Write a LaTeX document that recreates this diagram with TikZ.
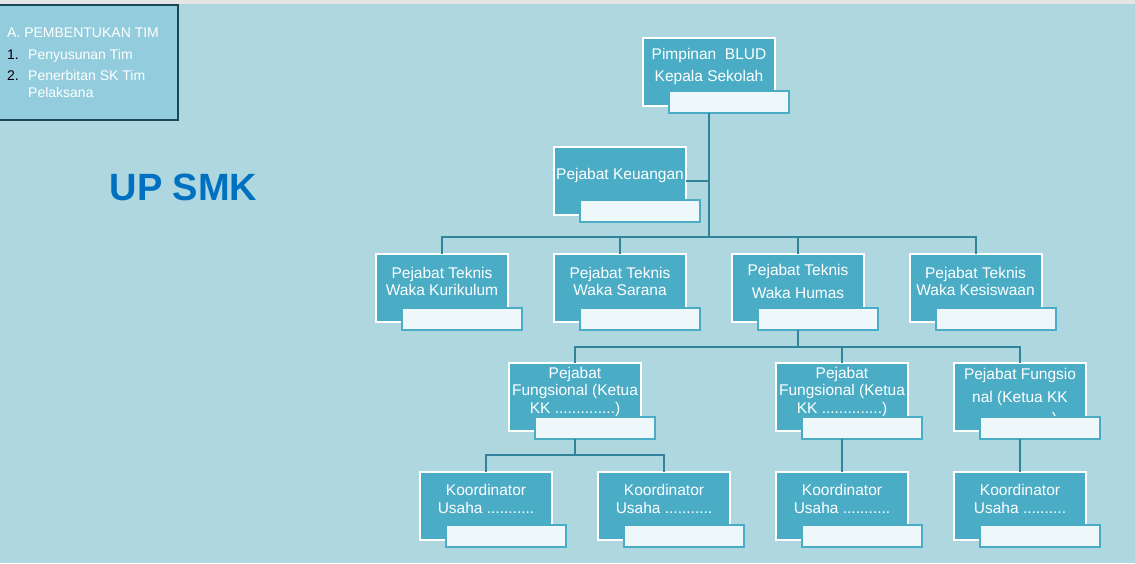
\documentclass[tikz,border=0pt]{standalone}
\usepackage{fontspec}
\setmainfont{Liberation Sans}
\definecolor{bgblue}{HTML}{AFD7DF}
\definecolor{unitblue}{HTML}{4BACC6}
\definecolor{tagwhite}{HTML}{EEF7F9}
\definecolor{linkblue}{HTML}{31849B}
\definecolor{timfill}{HTML}{93CDDD}
\definecolor{timedge}{HTML}{1A4756}
\definecolor{smkblue}{HTML}{0070C0}
\newcommand{\lift}{\\[-4pt]\mbox{}}
\begin{document}
\begin{tikzpicture}
  [x=1pt,y=-1pt,
   unit/.style={rectangle,fill=unitblue,draw=white,line width=2pt,minimum width=132pt,minimum height=68pt,inner sep=0pt,text=white,align=center,font=\fontsize{15.5}{17.5}\selectfont},
   tag/.style={rectangle,fill=tagwhite,draw=unitblue,line width=2pt,minimum width=120pt,minimum height=22pt,inner sep=0pt},
   link/.style={draw=linkblue,line width=2pt,line cap=rect}]
  \useasboundingbox (0,0) rectangle (1135,563);
  \fill[bgblue] (0,0) rectangle (1135,563);
  \fill[black!10] (0,0) rectangle (1135,4);

  \draw[fill=timfill,draw=timedge,line width=2pt] (-2,5) rectangle (178,120);
  \node[anchor=north west,text=white,inner sep=0pt,font=\fontsize{14}{17.5}\selectfont] (tim) at (7,25)
    {\begin{tabular}{@{}p{21pt}@{}l@{}}
      \multicolumn{2}{@{}l@{}}{A. PEMBENTUKAN TIM}\\[4.5pt]
      \textcolor{black}{1.} & Penyusunan Tim\\[3.5pt]
      \textcolor{black}{2.} & Penerbitan SK Tim\\
      & Pelaksana
    \end{tabular}};

  \node[font=\fontsize{38}{40}\bfseries\selectfont,text=smkblue] (smk) at (183.5,187) {UP SMK};

  \node[unit] (pimp) at (709,71.5)  {Pimpinan\ \ BLUD\\[5pt]Kepala Sekolah\lift};
  \node[unit] (keu)  at (620,180.5) {Pejabat Keuangan\lift};

  \node[unit] (kur) at (442,288)   {Pejabat Teknis\\Waka Kurikulum\lift};
  \node[unit] (sar) at (620,288)   {Pejabat Teknis\\Waka Sarana\lift};
  \node[unit] (hum) at (798,288)   {Pejabat Teknis\\[5pt]Waka Humas\lift};
  \node[unit] (kes) at (975.5,288) {Pejabat Teknis\\Waka Kesiswaan\lift};

  \node[unit] (fa) at (575,397)  {Pejabat\\Fungsional (Ketua\\KK ..............)\lift};
  \node[unit] (fb) at (842,397)  {Pejabat\\Fungsional (Ketua\\KK ..............)\lift};
  \node[unit] (fc) at (1020,397) {Pejabat Fungsio\\[6pt]nal (Ketua KK\\[3pt]................)};

  \node[unit] (ka) at (486,505.5)  {Koordinator\\Usaha ...........\lift};
  \node[unit] (kb) at (664,505.5)  {Koordinator\\Usaha ...........\lift};
  \node[unit] (kc) at (842,505.5)  {Koordinator\\Usaha ...........\lift};
  \node[unit] (kd) at (1020,505.5) {Koordinator\\Usaha ..........\lift};

  \foreach \n in {pimp,keu,kur,sar,hum,kes,fa,fb,fc,ka,kb,kc,kd}
    \node[tag] (\n-tag) at ([shift={(20,30.5)}]\n.center) {};

  \coordinate (joinA) at (709,237);
  \coordinate (joinB) at (798,347);
  \coordinate (joinC) at (575,455);

  \draw[link] (pimp.center |- pimp-tag.south) -- (joinA);
  \draw[link] (keu.east) -- (keu.east -| joinA);
  \draw[link] (kur.north |- joinA) -- (kes.north |- joinA);
  \foreach \n in {kur,sar,hum,kes}
    \draw[link] (\n.north) -- (\n.north |- joinA);

  \draw[link] (hum.center |- hum-tag.south) -- (joinB);
  \draw[link] (fa.north |- joinB) -- (fc.north |- joinB);
  \foreach \n in {fa,fb,fc}
    \draw[link] (\n.north) -- (\n.north |- joinB);

  \draw[link] (fa.center |- fa-tag.south) -- (joinC);
  \draw[link] (ka.north |- joinC) -- (kb.north |- joinC);
  \foreach \n in {ka,kb}
    \draw[link] (\n.north) -- (\n.north |- joinC);
  \draw[link] (fb.center |- fb-tag.south) -- (kc.north);
  \draw[link] (fc.center |- fc-tag.south) -- (kd.north);
\end{tikzpicture}
\end{document}
